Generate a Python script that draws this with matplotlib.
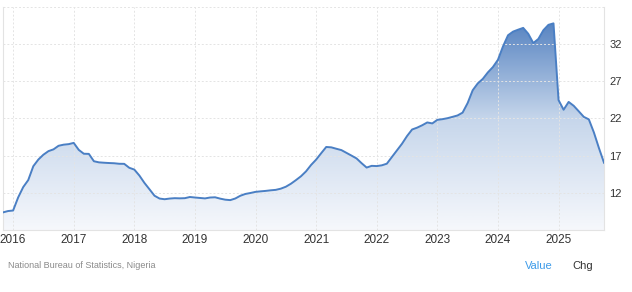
import numpy as np
import matplotlib
matplotlib.use("Agg")
import matplotlib.pyplot as plt
from matplotlib.colors import LinearSegmentedColormap

# =========================
# DATA (monthly, Nov 2015 - Oct 2025)
# =========================

start_year = 2015
start_month = 11

inflation = [
    9.37, 9.55,
    9.62, 11.38, 12.77, 13.72, 15.58, 16.48, 17.13, 17.61, 17.85, 18.33, 18.48, 18.55,
    18.72, 17.78, 17.26, 17.24, 16.25, 16.10, 16.05, 16.01, 15.98, 15.91, 15.90, 15.37,
    15.13, 14.33, 13.34, 12.48, 11.61, 11.23, 11.14, 11.23, 11.28, 11.26, 11.28, 11.44,
    11.37, 11.31, 11.25, 11.37, 11.40, 11.22, 11.08, 11.02, 11.24, 11.61, 11.85, 11.98,
    12.13, 12.20, 12.26, 12.34, 12.40, 12.56, 12.82, 13.22, 13.71, 14.23, 14.89, 15.75,
    16.47, 17.33, 18.17, 18.12, 17.93, 17.75, 17.38, 17.01, 16.63, 15.99, 15.40, 15.63,
    15.60, 15.70, 15.92, 16.82, 17.71, 18.60, 19.64, 20.52, 20.77, 21.09, 21.47, 21.34,
    21.82, 21.91, 22.04, 22.22, 22.41, 22.79, 24.08, 25.80, 26.72, 27.33, 28.20, 28.92,
    29.90, 31.70, 33.20, 33.69, 33.95, 34.19, 33.40, 32.15, 32.70, 33.88, 34.60, 34.80,
    24.48, 23.18, 24.23, 23.71, 22.97, 22.22, 21.88, 20.12, 18.02, 16.05,
]

year_ticks = list(range(2016, 2026))
value_ticks = [12, 17, 22, 27, 32]

# decimal-year positions
x = np.array([start_year + (start_month - 1 + i) / 12 for i in range(len(inflation))])
y = np.array(inflation)

# =========================
# FIGURE
# =========================

LINE = "#4a7fc4"
GRID = "#e4e4e4"
TEXT = "#333333"

plt.rcParams["font.family"] = ["Liberation Sans", "DejaVu Sans"]

fig = plt.figure(figsize=(6.32, 2.92), dpi=100)
ax = fig.add_axes([3 / 632, 62 / 292, 601 / 632, 223 / 292])

ymin, ymax = 7, 37
ax.set_xlim(x[0], x[-1])
ax.set_ylim(ymin, ymax)

# gradient fill under the line
cmap = LinearSegmentedColormap.from_list("te", ["#f6f8fc", "#c6d6eb", "#4677bb"])
grad = np.linspace(0, 1, 256).reshape(-1, 1)
img = ax.imshow(grad, cmap=cmap, aspect="auto", origin="lower",
                extent=[x[0], x[-1], ymin, ymax], zorder=1)
poly = ax.fill_between(x, y, ymin, color="none", lw=0)
img.set_clip_path(poly.get_paths()[0], transform=ax.transData)

ax.plot(x, y, color=LINE, lw=1.4, zorder=3, solid_joinstyle="round")

# grid
ax.set_xticks(year_ticks)
ax.set_yticks(value_ticks)
ax.grid(True, color=GRID, linestyle=(0, (2, 2)), linewidth=0.7, zorder=0)
ax.axhline(ymax, color=GRID, linestyle=(0, (2, 2)), linewidth=0.7, zorder=0, clip_on=False)

ax.yaxis.tick_right()
ax.tick_params(axis="x", length=0, pad=3, labelsize=8.5, labelcolor=TEXT)
ax.tick_params(axis="y", length=0, pad=4, labelsize=8, labelcolor=TEXT)

ax.spines["top"].set_visible(False)
for side in ["left", "right", "bottom"]:
    ax.spines[side].set_color("#e3e3e3")
    ax.spines[side].set_linewidth(0.8)

# footer
fig.text(8 / 632, 1 - 266 / 292, "National Bureau of Statistics, Nigeria",
         fontsize=6.5, color="#8a8a8a", va="center", ha="left")
fig.text(525 / 632, 1 - 266 / 292, "Value", fontsize=8, color="#3d9be9",
         va="center", ha="left")
fig.text(572 / 632, 1 - 266 / 292, "Chg", fontsize=8, color=TEXT,
         va="center", ha="left")

fig.savefig("out.png", dpi=100)
